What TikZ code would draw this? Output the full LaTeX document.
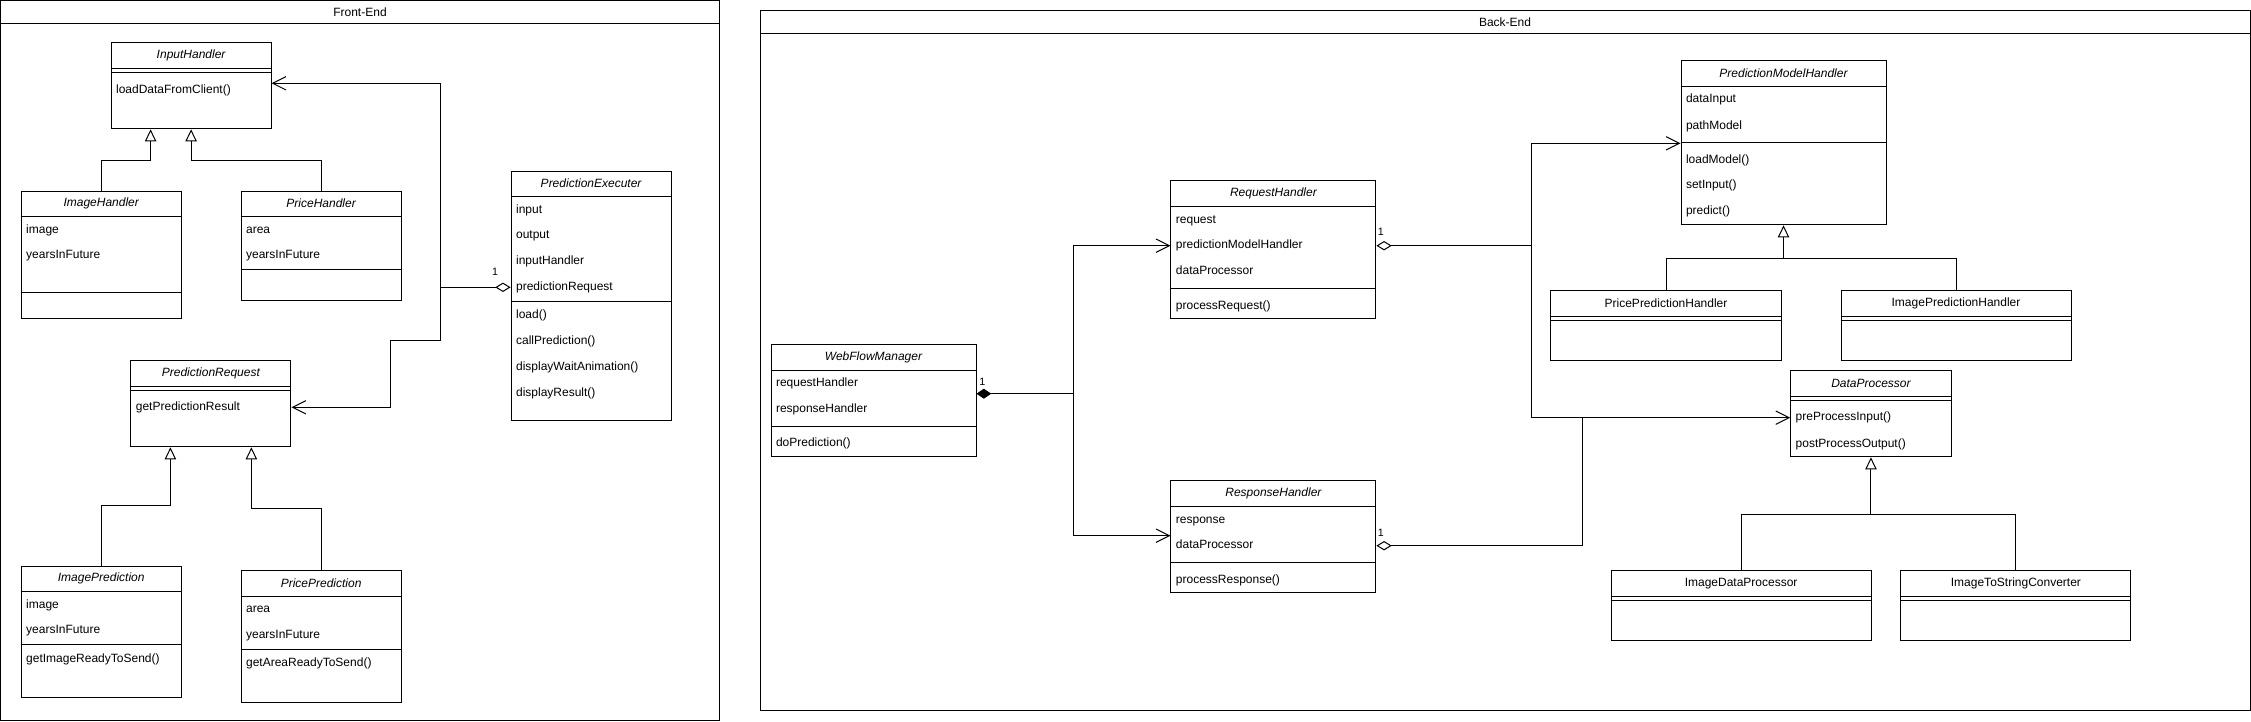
\documentclass[tikz,border=0pt]{standalone}
\usepackage{fontspec}
\setmainfont{Liberation Sans}
\usetikzlibrary{calc,arrows.meta}
\tikzset{
  classframe/.style={draw, rectangle, anchor=north west, inner sep=0pt},
  classname/.style={font=\fontsize{9}{11}\selectfont\itshape, inner sep=0pt},
  plainname/.style={font=\fontsize{9}{11}\selectfont, inner sep=0pt},
  member/.style={anchor=west, font=\fontsize{9}{11}\selectfont, inner sep=0pt, text height=6.5pt, text depth=1.8pt},
  mult/.style={font=\fontsize{8}{10}\selectfont, inner sep=0pt},
  paneltitle/.style={font=\fontsize{9}{11}\selectfont, inner sep=0pt},
  inherit/.style={-{Triangle[open,length=9pt,width=8.5pt]}},
  assoc/.style={-{Straight Barb[length=10pt,width=10pt]}},
  aggr/.style={{Diamond[open,length=11.5pt,width=7pt]}-},
  compo/.style={{Diamond[length=11pt,width=7.5pt]}-},
}
% class box: name, left, top, width, height, title style, title
\newcommand\classbox[7]{
  \node[classframe, minimum width={#4*0.75pt}, minimum height={#5*0.75pt}] (#1) at (#2,#3) {};
  \node[#6] (#1-name) at ($(#1.north)+(0,13)$) {#7};
  \draw ($(#1.north west)+(0,26)$) -- ($(#1.north east)+(0,26)$);
}
% extra separator line below the top of a class box
\newcommand\sepline[2]{
  \draw ($(#1.north west)+(0,#2)$) -- ($(#1.north east)+(0,#2)$);
}
% member rows: name, list of offset/text
\newcommand\members[2]{
  \foreach \dy/\txt [count=\i] in {#2}
    \node[member] (#1-m\i) at ($(#1.north west)+(5,\dy)$) {\txt};
}

\begin{document}
\begin{tikzpicture}[x=0.75pt,y=-0.75pt,line width=0.75pt]
%set bounding box
\useasboundingbox (0,0) rectangle (2251,721);
%Front-End panel
\draw (0.5,0.5) rectangle (719.5,720);
\draw (0.5,23.5) -- (719.5,23.5);
\node[paneltitle] (fe-title) at (360,12.5) {Front-End};
%Back-End panel
\draw (760,10) rectangle (2250,710);
\draw (760,33) -- (2250,33);
\node[paneltitle] (be-title) at (1505,22) {Back-End};

%Front-End classes
\classbox{ih}{110.6}{42.3}{160}{86}{classname}{InputHandler}
\sepline{ih}{30}
\members{ih}{47.7/loadDataFromClient()}

\classbox{imh}{20.7}{190.7}{160}{127.6}{classname}{ImageHandler}
\sepline{imh}{101.6}
\members{imh}{39.3/image,65/yearsInFuture}

\classbox{prh}{240.6}{190.7}{160}{109.6}{classname}{PriceHandler}
\sepline{prh}{78.6}
\members{prh}{39.3/area,65/yearsInFuture}

\classbox{pe}{510.6}{170.7}{160}{249.3}{classname}{PredictionExecuter}
\sepline{pe}{131}
\members{pe}{39.3/input,65/output,91/inputHandler,116.6/predictionRequest,145/load(),171/callPrediction(),197/displayWaitAnimation(),222.6/displayResult()}

\classbox{preq}{130.4}{360.3}{160}{86}{classname}{PredictionRequest}
\sepline{preq}{30.4}
\members{preq}{47.4/getPredictionResult}

\classbox{imp}{20.7}{565.7}{160}{131.3}{classname}{ImagePrediction}
\sepline{imp}{78.6}
\members{imp}{39.3/image,65/yearsInFuture,93.6/getImageReadyToSend()}

\classbox{prp}{240.6}{570.3}{160}{131.7}{classname}{PricePrediction}
\sepline{prp}{79}
\members{prp}{39/area,65/yearsInFuture,93.4/getAreaReadyToSend()}

%Front-End connectors
\draw[inherit] (imh.north) -- ++(0,-30.7) -| ($(ih.south west)+(40,0)$);
\draw[inherit] (prh.north) -- ++(0,-30.7) -| (ih.south);
\draw[inherit] (imp.north) -- ++(0,-60.4) -| ($(preq.south west)+(40,0)$);
\draw[inherit] (prp.north) -- ++(0,-62) -| ($(preq.south east)+(-40,0)$);
\coordinate (pe-agg) at ($(pe.north west)+(0,116.6)$);
\coordinate (pe-j) at ($(pe-agg)+(-69.8,0)$);
\draw[aggr] (pe-agg) -- (pe-j);
\draw[assoc] (pe-j) |- ($(ih.north east)+(0,41)$);
\draw[assoc] (pe-j) |- (390.3,340) |- ($(preq.north east)+(0,47)$);
\node[mult] (pe-mult) at ($(pe-agg)+(-15.6,-15.6)$) {1};

%Back-End classes
\classbox{wfm}{770.5}{344.3}{205}{112}{classname}{WebFlowManager}
\sepline{wfm}{82}
\members{wfm}{39.4/requestHandler,65.4/responseHandler,99.4/doPrediction()}

\classbox{rqh}{1170.4}{180.3}{205}{138}{classname}{RequestHandler}
\sepline{rqh}{108}
\members{rqh}{39.7/request,65.4/predictionModelHandler,91.4/dataProcessor,125.7/processRequest()}

\classbox{rsh}{1170.4}{480.3}{205}{112}{classname}{ResponseHandler}
\sepline{rsh}{82}
\members{rsh}{39.7/response,65.4/dataProcessor,99.7/processResponse()}

\classbox{pmh}{1680.5}{60.3}{205}{164}{classname}{PredictionModelHandler}
\sepline{pmh}{82}
\members{pmh}{39/dataInput,65.7/pathModel,99.7/loadModel(),125.4/setInput(),151/predict()}

\classbox{pph}{1550.3}{290.3}{230.4}{70}{plainname}{PricePredictionHandler}
\sepline{pph}{30}
\classbox{iph}{1840.5}{290.3}{230}{70}{plainname}{ImagePredictionHandler}
\sepline{iph}{30}

\classbox{dp}{1790.2}{370.3}{160.5}{86}{classname}{DataProcessor}
\sepline{dp}{30}
\members{dp}{47.4/preProcessInput(),73.7/postProcessOutput()}

\classbox{idp}{1610.6}{570.3}{260}{70}{plainname}{ImageDataProcessor}
\sepline{idp}{30}
\classbox{isc}{1900.4}{570.3}{230}{70}{plainname}{ImageToStringConverter}
\sepline{isc}{30}

%Back-End connectors
\coordinate (wfm-comp) at ($(wfm.north east)+(0,49.4)$);
\coordinate (wfm-j) at ($(wfm-comp)+(96.9,0)$);
\draw[compo] (wfm-comp) -- (wfm-j);
\draw[assoc] (wfm-j) |- ($(rqh.north west)+(0,65.4)$);
\draw[assoc] (wfm-j) |- ($(rsh.north west)+(0,55.4)$);
\node[mult] (wfm-mult) at ($(wfm-comp)+(5.8,-12)$) {1};

\coordinate (rqh-agg) at ($(rqh.north east)+(0,65.4)$);
\coordinate (rqh-j) at ($(rqh-agg)+(154.7,0)$);
\draw[aggr] (rqh-agg) -- (rqh-j);
\draw[assoc] (rqh-j) |- ($(pmh.north west)+(0,83)$);
\draw[assoc] (rqh-j) |- ($(dp.north west)+(0,47.4)$);
\node[mult] (rqh-mult) at ($(rqh-agg)+(4.3,-13.4)$) {1};

\coordinate (rsh-agg) at ($(rsh.north east)+(0,65.4)$);
\coordinate (dp-in) at ($(dp.north west)+(-207.3,47.4)$);
\draw[aggr] (rsh-agg) -| (dp-in);
\node[mult] (rsh-mult) at ($(rsh-agg)+(4.3,-12.4)$) {1};

\coordinate (pmh-j) at ($(pmh.south)+(0,33)$);
\draw (pph.north) |- (pmh-j) -| (iph.north);
\draw[inherit] (pmh-j) -- (pmh.south);
\coordinate (dp-j) at ($(dp.south)+(0,57.4)$);
\draw (idp.north) |- (dp-j) -| (isc.north);
\draw[inherit] (dp-j) -- (dp.south);

\end{tikzpicture}
\end{document}
